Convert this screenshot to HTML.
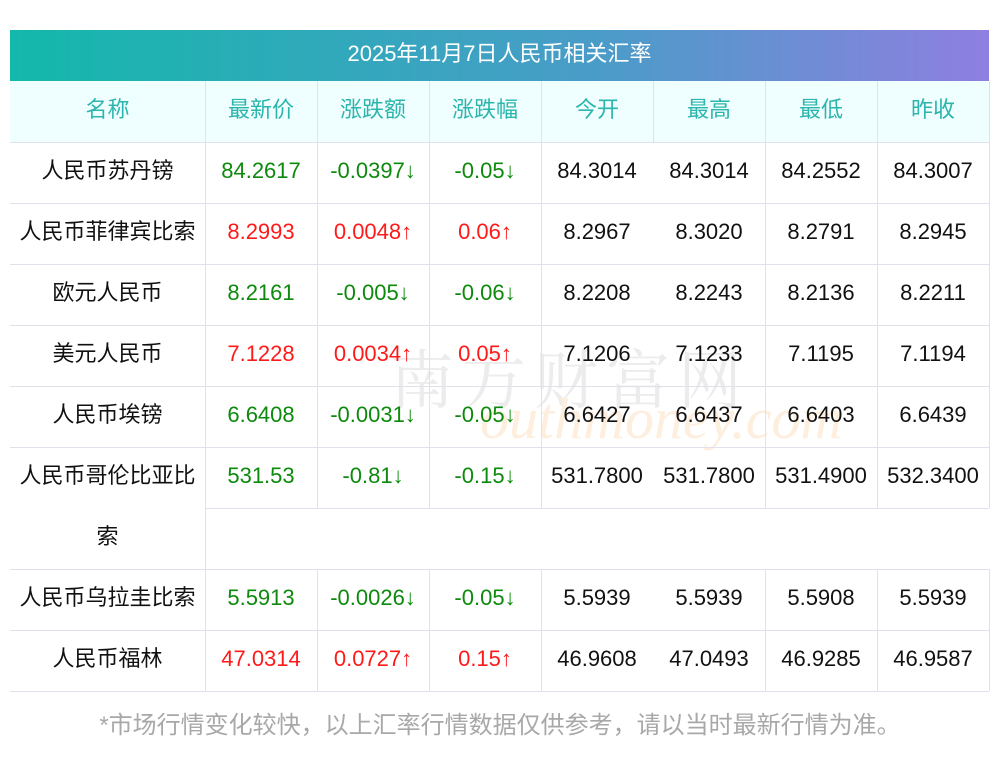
<!DOCTYPE html>
<html><head><meta charset="utf-8"><style>
body{margin:0;width:1000px;height:757px;background:#fff;position:relative;overflow:hidden;font-family:"Liberation Sans","Noto Sans CJK SC",sans-serif;}
.t{position:absolute;left:10px;top:30px;width:979px;height:51px;background:linear-gradient(90deg,#13b8ab,#4a9cc8 60%,#8f7fe0);color:#fff;font-size:22px;text-align:center;line-height:48px;}
.c{position:absolute;height:61px;line-height:57px;text-align:center;font-size:22px;color:#111;box-sizing:border-box;white-space:nowrap;}
.h{color:#2bb5ad;background:#effefe;}
.g{color:#0d8a0d}.r{color:#ff1a1a}
.hl{position:absolute;height:1px;background:#e0e1ea;}
.vl{position:absolute;width:1px;background:#e0e1ea;}
.f{position:absolute;left:0;width:1000px;top:705px;text-align:center;color:#a8a8a8;font-size:24px;}
.wm{position:absolute;left:390px;top:330px;font-size:64px;color:#ececec;letter-spacing:8px;font-family:"Noto Serif CJK SC",serif;}
.wm2{position:absolute;left:480px;top:385px;font-size:58px;color:#fdeedd;font-style:italic;font-family:"Liberation Serif",serif;}
</style></head><body>
<div class="t">2025年11月7日人民币相关汇率</div>
<div class="c h" style="left:10px;top:81px;width:979px"></div>
<div class="wm">南方财富网</div>
<div class="wm2">outhmoney.com</div>
<div id="tb"></div>
<div class="f">*市场行情变化较快，以上汇率行情数据仅供参考，请以当时最新行情为准。</div>
<script>
var X=[10,205,317,429,541,653,765,877,989];
var H=["名称","最新价","涨跌额","涨跌幅","今开","最高","最低","昨收"];
var R=[
["人民币苏丹镑","84.2617","-0.0397↓","-0.05↓","84.3014","84.3014","84.2552","84.3007","g"],
["人民币菲律宾比索","8.2993","0.0048↑","0.06↑","8.2967","8.3020","8.2791","8.2945","r"],
["欧元人民币","8.2161","-0.005↓","-0.06↓","8.2208","8.2243","8.2136","8.2211","g"],
["美元人民币","7.1228","0.0034↑","0.05↑","7.1206","7.1233","7.1195","7.1194","r"],
["人民币埃镑","6.6408","-0.0031↓","-0.05↓","6.6427","6.6437","6.6403","6.6439","g"],
["人民币哥伦比亚比","531.53","-0.81↓","-0.15↓","531.7800","531.7800","531.4900","532.3400","g"],
["人民币乌拉圭比索","5.5913","-0.0026↓","-0.05↓","5.5939","5.5939","5.5908","5.5939","g"],
["人民币福林","47.0314","0.0727↑","0.15↑","46.9608","47.0493","46.9285","46.9587","r"]];
var T=[142,203,264,325,386,447,569,630];
var s="";
for(var i=0;i<8;i++)s+='<div class="c h" style="left:'+X[i]+'px;top:81px;width:'+(X[i+1]-X[i])+'px">'+H[i]+'</div>';
for(var r=0;r<8;r++){for(var i=0;i<8;i++){var cl=(i>=1&&i<=3)?R[r][8]:"";s+='<div class="c '+cl+'" style="left:'+X[i]+'px;top:'+T[r]+'px;width:'+(X[i+1]-X[i])+'px">'+R[r][i]+'</div>';}}
s+='<div class="c" style="left:10px;top:508px;width:195px">索</div>';
var hs=[142,203,264,325,386,447,569,630,691];
for(var k=0;k<hs.length;k++)s+='<div class="hl" style="left:10px;width:979px;top:'+hs[k]+'px"></div>';
s+='<div class="hl" style="left:205px;width:784px;top:508px"></div>';
var segs=[[81,142],[142,508],[569,691]];
for(var i=1;i<9;i++){for(var k=0;k<3;k++){if(i==5&&k>0)continue;s+='<div class="vl" style="left:'+X[i]+'px;top:'+segs[k][0]+'px;height:'+(segs[k][1]-segs[k][0])+'px"></div>';}}
s+='<div class="vl" style="left:205px;top:508px;height:61px"></div>';
document.getElementById("tb").innerHTML=s;
</script>
</body></html>
